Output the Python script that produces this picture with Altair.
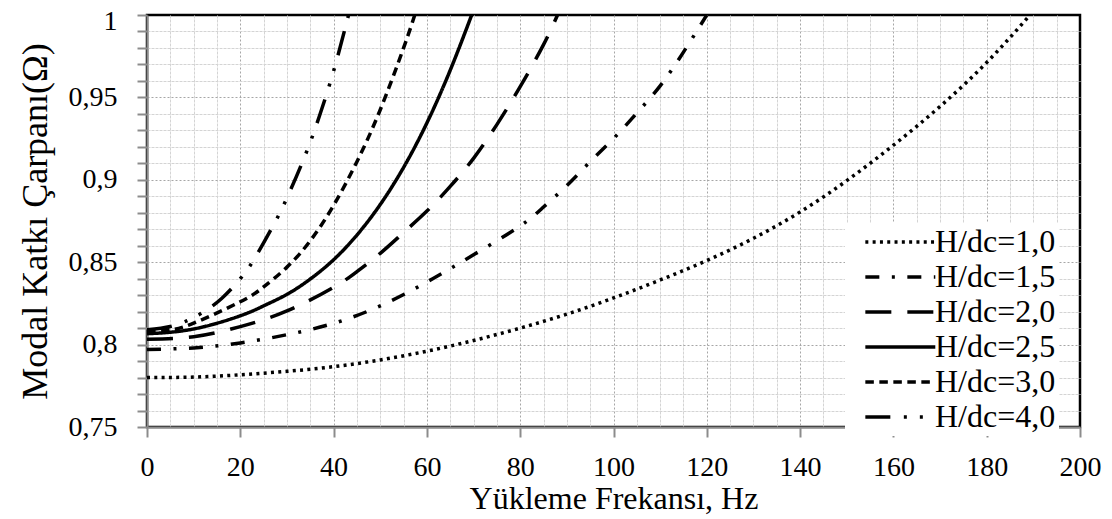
import altair as alt
import pandas as pd

# ---- data ----
series_names = ["H/dc=1,0", "H/dc=1,5", "H/dc=2,0", "H/dc=2,5", "H/dc=3,0", "H/dc=4,0"]

f_10 = [0, 10, 20, 30, 40, 50, 60, 70, 80, 90, 100, 110, 120, 130, 140, 150, 160, 170, 180, 189.3]
v_10 = [0.780, 0.7803, 0.7817, 0.7838, 0.7866, 0.7907, 0.7960, 0.8025, 0.8100, 0.8185, 0.8283,
        0.8392, 0.851, 0.8645, 0.8805, 0.8995, 0.921, 0.9445, 0.9712, 1.0]

f_15 = [0, 10, 20, 30, 40, 50, 60, 70, 80, 85, 90, 95, 100, 105, 110, 115, 120]
v_15 = [0.797, 0.798, 0.801, 0.806, 0.8129, 0.8235, 0.838, 0.8545, 0.872, 0.8835, 0.8965,
        0.911, 0.925, 0.9405, 0.957, 0.9775, 1.0]

f_20 = [0, 10, 20, 30, 40, 45, 50, 55, 60, 65, 70, 75, 80, 85, 88]
v_20 = [0.8032, 0.8048, 0.8109, 0.8204, 0.8348, 0.8443, 0.8554, 0.868, 0.881, 0.896, 0.913,
        0.9335, 0.9565, 0.982, 1.0]

f_25 = [0, 10, 20, 25, 30, 35, 40, 45, 50, 55, 60, 65, 69.6]
v_25 = [0.8066, 0.8095, 0.8175, 0.8235, 0.8305, 0.8398, 0.8515, 0.8665, 0.885, 0.9075, 0.9345,
        0.9665, 1.0]

f_30 = [0, 5, 10, 20, 25, 30, 35, 40, 45, 50, 55, 57.4]
v_30 = [0.808, 0.809, 0.813, 0.826, 0.835, 0.847, 0.863, 0.8845, 0.911, 0.9425, 0.980, 1.0]

f_40 = [0, 5, 9, 12, 16, 20, 23, 27, 30, 34, 37, 40, 43.2]
v_40 = [0.809, 0.811, 0.815, 0.8196, 0.828, 0.840, 0.852, 0.872, 0.889, 0.9155, 0.939, 0.966, 1.0]

x_ticks = [5 * i for i in range(41)]
y_ticks = [round(0.75 + 0.01 * i, 2) for i in range(26)]

# ---- build table ----
rows = []
for name, fs, vs in zip(series_names,
                        [f_10, f_15, f_20, f_25, f_30, f_40],
                        [v_10, v_15, v_20, v_25, v_30, v_40]):
    for a, b in zip(fs, vs):
        rows.append({"f": a, "v": b, "seri": name})
df = pd.DataFrame(rows)

dashes = [[3, 4.3], [14, 12.5, 3, 12.5], [26, 16], [1, 0], [8.5, 5.5],
          [25, 13.5, 3, 13, 3, 13.5]]

FONT = "Liberation Serif"
xscale = alt.Scale(domain=[0, 200], nice=False, zero=False)
yscale = alt.Scale(domain=[0.75, 1.0], nice=False, zero=False)

x_major = "datum.value % 20 == 0"
y_major = "abs(datum.value*20 - round(datum.value*20)) < 0.001"
x_edge = "datum.value <= 0 || datum.value >= 200"
y_edge = "datum.value <= 0.7501 || datum.value >= 0.9999"

chart = alt.Chart(df).mark_line(
    color="black", strokeWidth=3.5, interpolate="natural", clip=True, strokeCap="butt"
).encode(
    x=alt.X("f:Q", scale=xscale,
            axis=alt.Axis(values=x_ticks, title="Yükleme Frekansı, Hz", grid=True,
                          labelExpr=f"{x_major} ? format(datum.value, 'd') : ''",
                          gridColor={"condition": {"test": x_major, "value": "#a6a6a6"}, "value": "#d4d4d4"},
                          gridDash={"condition": {"test": x_major, "value": [2, 2]}, "value": [3, 1]},
                          gridOpacity={"condition": {"test": x_edge, "value": 0}, "value": 1},
                          gridWidth=1,
                          tickOpacity={"condition": {"test": x_major, "value": 1}, "value": 0},
                          labelFont=FONT, labelFontSize=28, labelColor="black",
                          titleFont=FONT, titleFontSize=32, titleFontWeight="normal",
                          titleColor="black", tickSize=10, tickWidth=2, tickColor="#8c8c8c",
                          domainColor="#8c8c8c", domainWidth=2, labelPadding=16,
                          titlePadding=2, labelFlush=False, labelOverlap=False)),
    y=alt.Y("v:Q", scale=yscale,
            axis=alt.Axis(values=y_ticks, title="Modal Katkı Çarpanı(Ω)", grid=True,
                          labelExpr=f"{y_major} ? replace(format(datum.value, '~g'), '.', ',') : ''",
                          gridColor={"condition": {"test": y_major, "value": "#a6a6a6"}, "value": "#d4d4d4"},
                          gridDash={"condition": {"test": y_major, "value": [2, 2]}, "value": [3, 1]},
                          gridOpacity={"condition": {"test": y_edge, "value": 0}, "value": 1},
                          labelOffset={"condition": {"test": "datum.value >= 0.9999", "value": 6}, "value": 0},
                          gridWidth=1,
                          labelFont=FONT, labelFontSize=28, labelColor="black",
                          titleFont=FONT, titleFontSize=36, titleFontWeight="normal",
                          titleColor="black", tickSize=10, tickWidth=2, tickColor="#8c8c8c",
                          domainColor="#8c8c8c", domainWidth=2, labelPadding=20,
                          titlePadding=14, labelFlush=False, labelOverlap=False)),
    strokeDash=alt.StrokeDash(
        "seri:N",
        scale=alt.Scale(domain=series_names, range=dashes),
        legend=alt.Legend(title=None, orient="none", legendX=698, legendY=208,
                          fillColor="white", padding=3, symbolOffset=13,
                          symbolType="M-1,0L5,0", symbolSize=544, symbolStrokeWidth=3.5,
                          symbolStrokeColor="black", labelFont=FONT, labelFontSize=32,
                          labelColor="black", labelOffset=42, rowPadding=3,
                          labelLimit=300),
    ),
    order=alt.Order("f:Q"),
).properties(
    width=933, height=412,
    autosize=alt.AutoSizeParams(type="none"),
    padding={"left": 139, "top": 7, "right": 24, "bottom": 90},
).configure_view(stroke="black", strokeWidth=2.5)

chart.save("out.html", embed_options={"renderer": "svg", "actions": False})
